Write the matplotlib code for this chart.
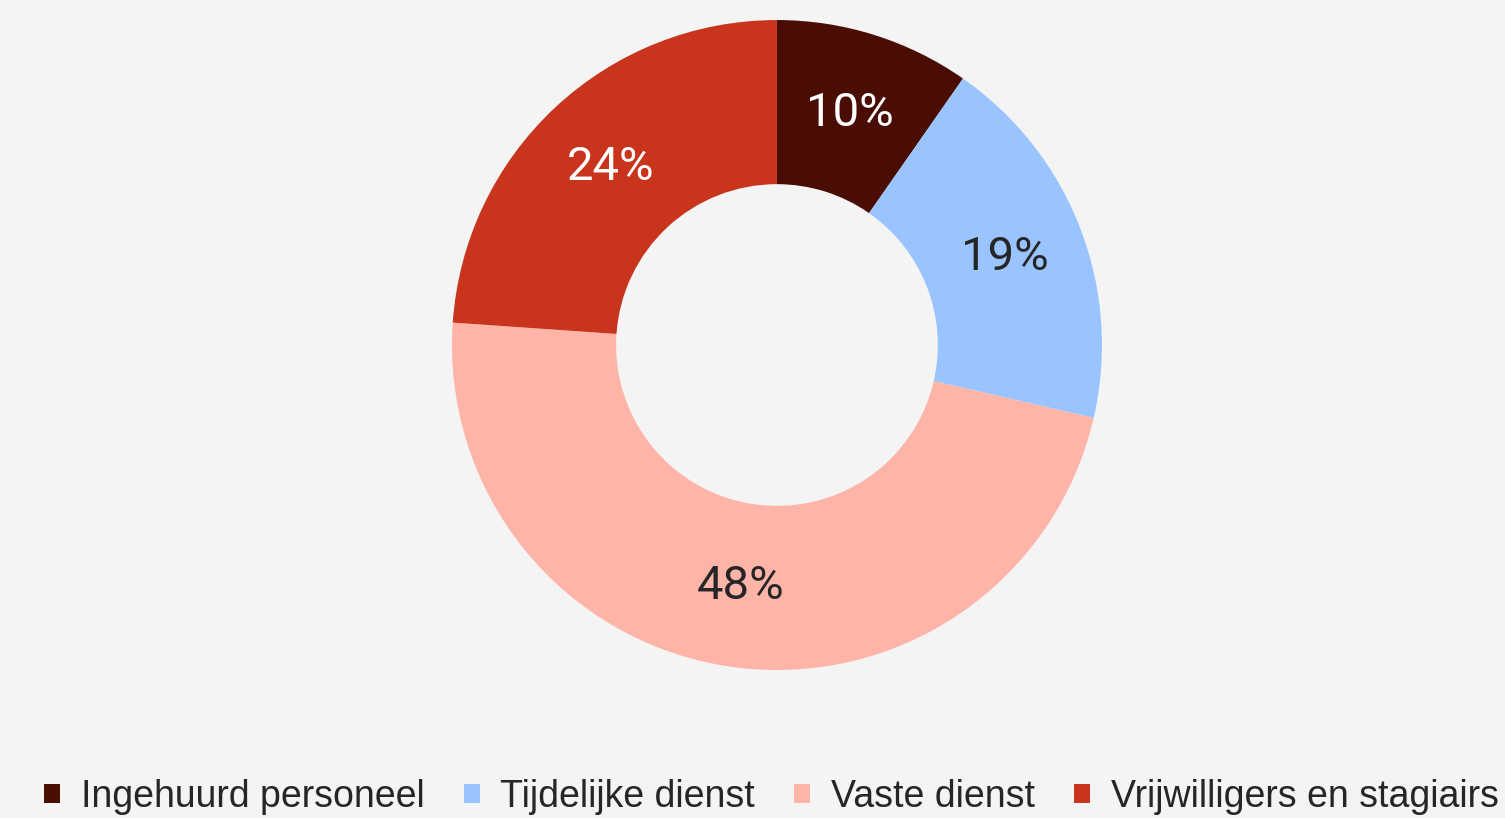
import matplotlib
matplotlib.use("Agg")
import matplotlib.pyplot as plt
from matplotlib.patches import Patch
import numpy as np

# shares (sum ~100)
categories = ["Ingehuurd personeel", "Tijdelijke dienst", "Vaste dienst", "Vrijwilligers en stagiairs"]
shares = [9.7, 18.9, 47.5, 23.9]
pct_labels = ["10%", "19%", "48%", "24%"]
colors = ["#4a0d04", "#99c4ff", "#ffb4a8", "#c9341d"]
label_colors = ["white", "#262626", "#262626", "white"]

bg = "#f4f4f4"
fig = plt.figure(figsize=(15.05, 8.18), dpi=100, facecolor=bg)
ax = fig.add_axes([0.3003, 0.1809, 0.4319, 0.7946])
ax.set_facecolor(bg)

wedges, _ = ax.pie(shares, colors=colors, startangle=90, counterclock=False,
                   radius=1.0, wedgeprops=dict(width=0.505, linewidth=0))
ax.set_xlim(-1, 1)
ax.set_ylim(-1, 1)
ax.set_aspect("equal")
ax.axis("off")

for w, lab, c in zip(wedges, pct_labels, label_colors):
    mid = np.deg2rad((w.theta1 + w.theta2) / 2)
    r = 0.75
    ax.text(r * np.cos(mid), r * np.sin(mid), lab, color=c, ha="center", va="center",
            fontsize=34, family=["Roboto", "DejaVu Sans"])

handles = [Patch(facecolor=c, edgecolor="none") for c in colors]
leg = fig.legend(handles, categories, loc="center", ncol=4, frameon=False,
                 bbox_to_anchor=(0.5126, 0.026), handlelength=0.42, handleheight=0.42,
                 handletextpad=0.55, columnspacing=1.05, borderpad=0, borderaxespad=0,
                 prop={"family": ["Liberation Sans", "DejaVu Sans"], "size": 27})
for t in leg.get_texts():
    t.set_color("#262626")

fig.savefig("out.png", dpi=100, facecolor=bg)
